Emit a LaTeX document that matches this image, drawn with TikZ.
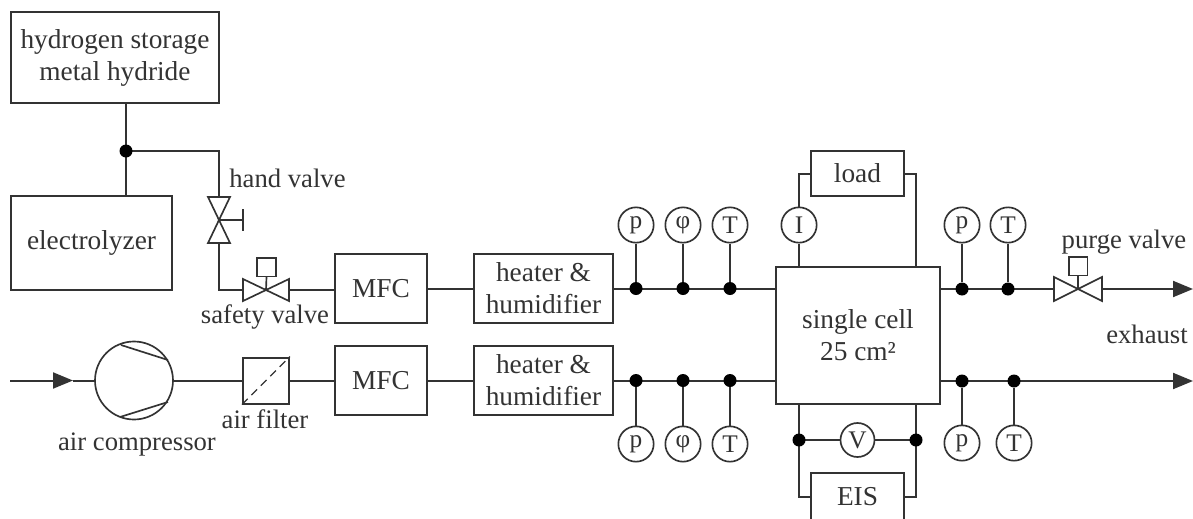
\documentclass[tikz,border=0pt]{standalone}
\usepackage{fontspec}
\setmainfont{Liberation Serif}
\usetikzlibrary{arrows.meta}
\definecolor{ink}{HTML}{333333}
\tikzset{
  pipe/.style={draw=ink,line width=1.5pt},
  thin pipe/.style={draw=ink,line width=1.25pt},
  boxn/.style={draw=ink,line width=1.5pt,fill=white,inner sep=0pt,align=center,text=ink,font=\fontsize{20.5}{24}\selectfont},
  sensor/.style={circle,draw=ink,line width=1.25pt,fill=white,minimum size=26.5pt,inner sep=0pt,text=ink,font=\fontsize{19}{20}\selectfont},
  lbl/.style={inner sep=0pt,text=ink,align=center,font=\fontsize{20}{24}\selectfont},
  dotn/.style={circle,fill=black,inner sep=0pt,minimum size=9.75pt},
  tipped/.style={pipe,-{Triangle[length=15pt,width=12pt]}},
  valvepart/.style={draw=ink,line width=1.25pt,fill=white,line join=miter},
  actbox/.style={draw=ink,line width=1.25pt,fill=white,inner sep=0pt,minimum size=14pt}
}
\begin{document}
\begin{tikzpicture}[x=0.75pt,y=-0.75pt]
\useasboundingbox (0,0) rectangle (1193,518);
\clip (0,0) rectangle (1193,518);
% boxes
\node[boxn,minimum width=156pt,minimum height=68.25pt] (store) at (115,57.5) {hydrogen storage\\metal hydride};
\node[boxn,minimum width=120.75pt,minimum height=70.5pt] (elec) at (91.5,243) {electrolyzer};
\node[boxn,minimum width=69pt,minimum height=51.75pt] (mfcA) at (381,288.5) {MFC};
\node[boxn,minimum width=69pt,minimum height=51.75pt] (mfcB) at (381,380.5) {MFC};
\node[boxn,minimum width=104.25pt,minimum height=51.75pt] (heatA) at (543.5,288.5) {heater \&\\humidifier};
\node[boxn,minimum width=104.25pt,minimum height=51.75pt] (heatB) at (543.5,380.5) {heater \&\\humidifier};
\node[boxn,minimum width=123pt,minimum height=102.75pt] (cell) at (858,335.5) {single cell\\25 cm²};
\node[boxn,minimum width=69.75pt,minimum height=33.75pt] (load) at (857.5,173.5) {load};
\node[boxn,minimum width=69.75pt,minimum height=36pt] (eis) at (857.5,497) {EIS};
\node[boxn,minimum width=34.5pt,minimum height=34.5pt] (filter) at (266,380.5) {};
\draw[ink,line width=1pt,dash pattern=on 6pt off 4pt] (filter.south west) -- (filter.north east);
% hydrogen side
\coordinate (hvT) at (219,197);
\coordinate (hvC) at (219,220);
\coordinate (hvB) at (219,243);
\coordinate (hvH) at (243,220);
\coordinate (svL) at (243,290);
\coordinate (svC) at (266,290);
\coordinate (svR) at (289,290);
\node[actbox] (svA) at (266.5,267) {};
\coordinate (jc) at (126,151);
\draw[pipe] (store.south -| jc) -- (jc);
\draw[pipe] (jc) -- (elec.north -| jc);
\draw[pipe] (jc) -| (hvT);
\node[dotn] (jn) at (jc) {};
\draw[pipe] (hvB) |- (svL);
\draw[valvepart] (hvT) ++(-11,0) -- ++(22,0) -- (hvC) -- cycle;
\draw[valvepart] (hvB) ++(-11,0) -- ++(22,0) -- (hvC) -- cycle;
\draw[thin pipe] (hvC) -- (hvH);
\draw[thin pipe] ([yshift=8.25pt]hvH) -- ([yshift=-8.25pt]hvH);
\draw[valvepart] (svL) ++(0,-11) -- ++(0,22) -- (svC) -- cycle;
\draw[valvepart] (svR) ++(0,-11) -- ++(0,22) -- (svC) -- cycle;
\draw[thin pipe] (svA.south) -- (svC);
\draw[pipe] (svR) -- (svR -| mfcA.west);
\draw[pipe] (mfcA.east) -- (heatA.west);
\draw[pipe] (heatA.east) -- (heatA.east -| cell.west);
% air side
\coordinate (airIn) at (10,380.5);
\node[circle,draw=ink,line width=1.25pt,fill=white,minimum size=58.5pt,inner sep=0pt] (comp) at (134,380.5) {};
\coordinate (cpA) at (121,345);
\coordinate (cpB) at (168,360);
\coordinate (cpC) at (120,417);
\coordinate (cpD) at (168,402);
\draw[thin pipe] (cpA) -- (cpB);
\draw[thin pipe] (cpC) -- (cpD);
\coordinate (airMid) at (73,380.5);
\draw[tipped] (airIn) -- (airMid);
\draw[pipe] (airMid) -- (comp.west);
\draw[pipe] (comp.east) -- (filter.west);
\draw[pipe] (filter.east) -- (mfcB.west);
\draw[pipe] (mfcB.east) -- (heatB.west);
\draw[pipe] (heatB.east) -- (heatB.east -| cell.west);
% inlet sensors
\foreach \n/\x/\t in {a/636/p,b/683/φ,c/730/T}{
  \node[dotn] (up\n) at (\x,288.5) {};
  \node[sensor] (us\n) at (\x,225) {\t};
  \draw[pipe] (us\n) -- (up\n);
  \node[dotn] (lo\n) at (\x,380.5) {};
  \node[sensor] (ls\n) at (\x,444) {\t};
  \draw[pipe] (ls\n) -- (lo\n);
}
% outlet
\coordinate (exA) at (1193,289);
\coordinate (exB) at (1193,381);
\coordinate (pvL) at (1054,289);
\coordinate (pvC) at (1078,289);
\coordinate (pvR) at (1102,289);
\node[actbox] (pvA) at (1078,266) {};
\draw[pipe] (cell.east |- pvL) -- (pvL);
\draw[tipped] (pvR) -- (exA);
\draw[tipped] (cell.east |- exB) -- (exB);
\draw[valvepart] (pvL) ++(0,-12) -- ++(0,24) -- (pvC) -- cycle;
\draw[valvepart] (pvR) ++(0,-12) -- ++(0,24) -- (pvC) -- cycle;
\draw[thin pipe] (pvA.south) -- (pvC);
\foreach \n/\x/\t in {a/962/p,b/1008/T}{
  \node[dotn] (rp\n) at (\x,289) {};
  \node[sensor] (rs\n) at (\x,225) {\t};
  \draw[pipe] (rs\n) -- (rp\n);
}
\foreach \n/\x/\t in {a/962/p,b/1014/T}{
  \node[dotn] (rq\n) at (\x,381) {};
  \node[sensor] (rt\n) at (\x,443) {\t};
  \draw[pipe] (rt\n) -- (rq\n);
}
% electrical
\node[sensor] (amp) at (799,225) {I};
\coordinate (railL) at (799,404);
\coordinate (railR) at (916,404);
\coordinate (railRT) at (916,267);
\draw[pipe] (load.west) -| (amp.north);
\draw[pipe] (amp.south) -- (amp.south |- cell.north);
\draw[pipe] (load.east) -| (railRT);
\coordinate (vLc) at (799,440);
\coordinate (vRc) at (916,440);
\node[sensor,minimum size=25.5pt] (volt) at (857.5,440) {V};
\draw[pipe] (railL) -- (vLc);
\draw[pipe] (railR) -- (vRc);
\draw[pipe] (vLc) -- (volt.west);
\draw[pipe] (volt.east) -- (vRc);
\draw[pipe] (vLc) |- (eis.west);
\draw[pipe] (vRc) |- (eis.east);
\node[dotn] (vL) at (vLc) {};
\node[dotn] (vR) at (vRc) {};
% labels
\node[lbl] (lhv) at (287.5,178) {hand valve};
\node[lbl] (lsv) at (265,317) {safety valve};
\node[lbl] (laf) at (265,419) {air filter};
\node[lbl] (lac) at (137,445) {air compressor};
\node[lbl] (lpv) at (1124,242) {purge valve};
\node[lbl] (lex) at (1147,334) {exhaust};
\end{tikzpicture}
\end{document}
